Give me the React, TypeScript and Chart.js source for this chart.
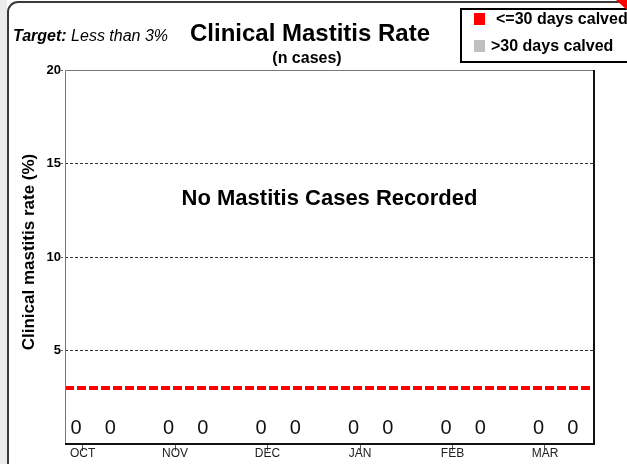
import React, { useEffect, useRef } from "react";
import { Chart, registerables } from "chart.js";

Chart.register(...registerables);

const MONTHS = ["OCT", "NOV", "DEC", "JAN", "FEB", "MAR"];
const RATE_LE30 = [0, 0, 0, 0, 0, 0];
const RATE_GT30 = [0, 0, 0, 0, 0, 0];
const CASES_LE30 = [0, 0, 0, 0, 0, 0];
const CASES_GT30 = [0, 0, 0, 0, 0, 0];
const TARGET_RATE = 3;
const Y_MAX = 20;
const Y_STEP = 5;

const TITLE = "Clinical Mastitis Rate";
const SUBTITLE = "(n cases)";
const TARGET_LABEL = "Target:";
const TARGET_TEXT = " Less than 3%";
const Y_TITLE = "Clinical mastitis rate (%)";
const EMPTY_MSG = "No Mastitis Cases Recorded";
const LEGEND_LE30 = "<=30 days calved";
const LEGEND_GT30 = ">30 days calved";

const FONT = "'Liberation Sans', Arial, Helvetica, sans-serif";
const X_MIN = -0.19;
const X_MAX = 5.53;
const OFF_A = -0.07;
const OFF_B = 0.3;

export default function App() {
  const ref = useRef<HTMLCanvasElement | null>(null);

  useEffect(() => {
    const canvas = ref.current;
    if (!canvas) return;

    const overlay = {
      id: "overlay",
      beforeDraw(chart: any) {
        const ctx = chart.ctx;
        ctx.save();
        ctx.fillStyle = "#ffffff";
        ctx.fillRect(0, 0, chart.width, chart.height);
        ctx.fillStyle = "#ececec";
        ctx.fillRect(0, 0, 7, chart.height);
        ctx.strokeStyle = "#3a3a3a";
        ctx.lineWidth = 2;
        ctx.beginPath();
        ctx.moveTo(8, chart.height + 5);
        ctx.lineTo(8, 12);
        ctx.arcTo(8, 2, 18, 2, 10);
        ctx.lineTo(chart.width + 5, 2);
        ctx.stroke();
        ctx.restore();
      },
      afterDatasetsDraw(chart: any) {
        const ctx = chart.ctx;
        ctx.save();
        ctx.font = `20px ${FONT}`;
        ctx.fillStyle = "#111";
        ctx.textAlign = "center";
        ctx.textBaseline = "middle";
        const cases = [CASES_LE30, CASES_GT30];
        [0, 1].forEach((di) => {
          const meta = chart.getDatasetMeta(di);
          meta.data.forEach((el: any, i: number) => {
            ctx.fillText(String(cases[di][i]), el.x, chart.chartArea.bottom - 16);
          });
        });
        ctx.restore();
      },
      afterDraw(chart: any) {
        const ctx = chart.ctx;
        const a = chart.chartArea;
        ctx.save();
        ctx.strokeStyle = "#777";
        ctx.lineWidth = 1;
        ctx.beginPath();
        ctx.moveTo(a.left + 0.5, a.bottom);
        ctx.lineTo(a.left + 0.5, a.top + 0.5);
        ctx.lineTo(a.right, a.top + 0.5);
        ctx.stroke();
        ctx.strokeStyle = "#111";
        ctx.lineWidth = 2;
        ctx.beginPath();
        ctx.moveTo(a.left, a.bottom);
        ctx.lineTo(a.right, a.bottom);
        ctx.lineTo(a.right, a.top);
        ctx.stroke();

        ctx.fillStyle = "#000";
        ctx.textAlign = "center";
        ctx.textBaseline = "middle";
        ctx.font = `bold 24px ${FONT}`;
        ctx.fillText(TITLE, 310, 34);
        ctx.font = `bold 16px ${FONT}`;
        ctx.fillText(SUBTITLE, 307, 59);
        ctx.font = `bold 22px ${FONT}`;
        ctx.fillText(EMPTY_MSG, (a.left + a.right) / 2, 199);

        ctx.textAlign = "left";
        ctx.font = `italic bold 16px ${FONT}`;
        ctx.fillText(TARGET_LABEL, 13, 37);
        const w = ctx.measureText(TARGET_LABEL).width;
        ctx.font = `italic 16px ${FONT}`;
        ctx.fillText(TARGET_TEXT, 13 + w, 37);

        ctx.save();
        ctx.translate(29, 252);
        ctx.rotate(-Math.PI / 2);
        ctx.textAlign = "center";
        ctx.font = `bold 17px ${FONT}`;
        ctx.fillText(Y_TITLE, 0, 0);
        ctx.restore();

        ctx.strokeStyle = "#000";
        ctx.lineWidth = 2;
        ctx.strokeRect(461, 9, 220, 53);
        ctx.fillStyle = "#ff0000";
        ctx.fillRect(474, 13, 11, 12);
        ctx.fillStyle = "#c0c0c0";
        ctx.fillRect(474, 40, 11, 12);
        ctx.fillStyle = "#000";
        ctx.font = `bold 16px ${FONT}`;
        ctx.textAlign = "left";
        ctx.fillText(LEGEND_LE30, 496, 20);
        ctx.fillText(LEGEND_GT30, 491, 47);

        ctx.fillStyle = "#ff0000";
        ctx.beginPath();
        ctx.moveTo(616, 0);
        ctx.lineTo(chart.width, 0);
        ctx.lineTo(chart.width, 10);
        ctx.closePath();
        ctx.fill();
        ctx.restore();
      },
    };

    const chart = new Chart(canvas, {
      type: "bar",
      data: {
        datasets: [
          {
            type: "bar",
            label: LEGEND_LE30,
            data: RATE_LE30.map((v, i) => ({ x: i + OFF_A, y: v })),
            backgroundColor: "#ff0000",
            barThickness: 20,
            grouped: false,
          },
          {
            type: "bar",
            label: LEGEND_GT30,
            data: RATE_GT30.map((v, i) => ({ x: i + OFF_B, y: v })),
            backgroundColor: "#c0c0c0",
            barThickness: 20,
            grouped: false,
          },
          {
            type: "line",
            label: "Target",
            data: [
              { x: X_MIN, y: TARGET_RATE },
              { x: X_MAX, y: TARGET_RATE },
            ],
            borderColor: "#ff0000",
            borderWidth: 4,
            borderDash: [9, 3],
            pointRadius: 0,
            fill: false,
          } as any,
        ],
      },
      options: {
        animation: false,
        responsive: false,
        maintainAspectRatio: false,
        layout: { padding: { left: 0, right: 33, top: 70, bottom: 0 } },
        plugins: {
          legend: { display: false },
          tooltip: { enabled: false },
          title: { display: false },
        },
        scales: {
          x: {
            type: "linear",
            min: X_MIN,
            max: X_MAX,
            offset: false,
            afterBuildTicks: (scale: any) => {
              scale.ticks = MONTHS.map((_, i) => ({ value: i }));
            },
            afterFit: (scale: any) => {
              scale.height = 20;
            },
            grid: {
              display: true,
              drawOnChartArea: false,
              drawTicks: true,
              tickLength: 7,
              color: "#555",
              lineWidth: 1,
              offset: false,
            },
            border: { display: false },
            ticks: {
              autoSkip: false,
              maxRotation: 0,
              padding: -5,
              color: "#222",
              font: { family: FONT, size: 12 },
              callback: (v: any) => MONTHS[Math.round(Number(v))] ?? "",
            },
          },
          y: {
            min: 0,
            max: Y_MAX,
            afterFit: (scale: any) => {
              scale.width = 65;
            },
            grid: {
              color: (c: any) =>
                c.tick && (c.tick.value === 0 || c.tick.value === Y_MAX) ? "transparent" : "#000",
              tickColor: (c: any) => (c.tick && c.tick.value === 0 ? "transparent" : "#333"),
              lineWidth: 0.8,
              tickBorderDash: [2, 2],
              tickLength: 4,
            } as any,
            border: { display: false, dash: [3, 2] },
            ticks: {
              stepSize: Y_STEP,
              padding: 0,
              color: "#000",
              font: { family: FONT, size: 13, weight: "bold" },
              callback: (v: any) => (Number(v) === 0 ? "" : String(v)),
            },
          },
        },
      },
      plugins: [overlay],
    });

    return () => chart.destroy();
  }, []);

  return (
    <div style={{ position: "absolute", left: 0, top: 0, width: 627, height: 464 }}>
      <canvas ref={ref} width={627} height={464} style={{ width: 627, height: 464, display: "block" }} />
    </div>
  );
}
